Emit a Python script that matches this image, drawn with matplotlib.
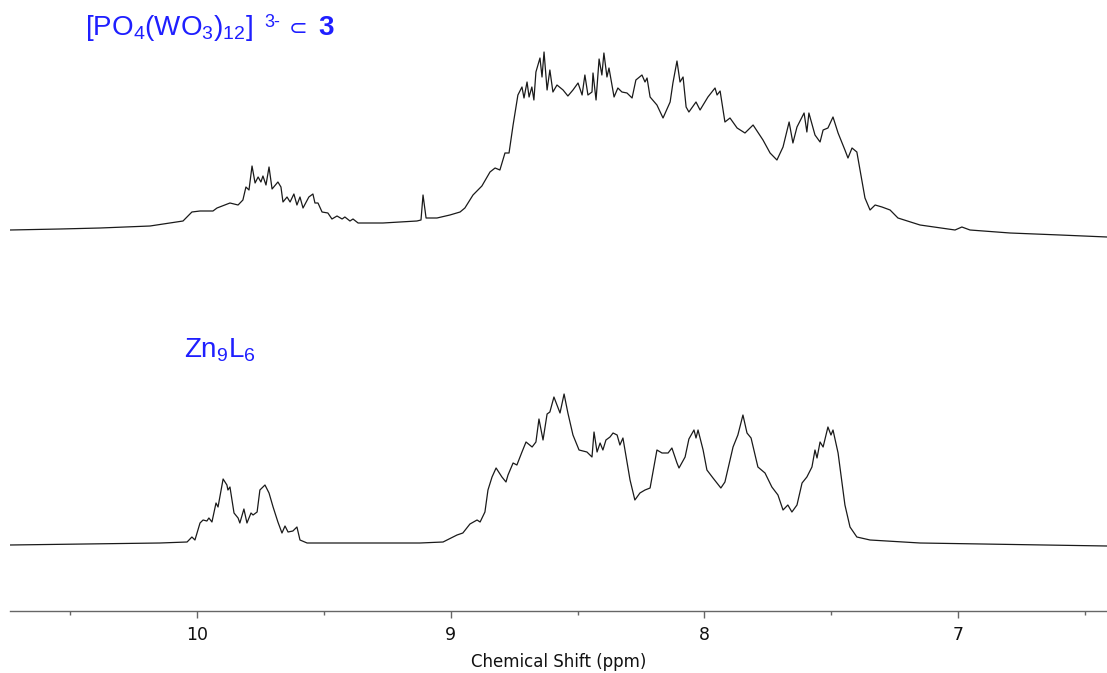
import matplotlib
matplotlib.use("Agg")
import matplotlib.pyplot as plt
from matplotlib.ticker import MultipleLocator

plt.rcParams['font.family'] = ['Liberation Sans', 'DejaVu Sans']
plt.rcParams['mathtext.fontset'] = 'custom'
plt.rcParams['mathtext.rm'] = 'Liberation Sans'
plt.rcParams['mathtext.it'] = 'Liberation Sans'
plt.rcParams['mathtext.bf'] = 'Liberation Sans:bold'

# upper spectrum: [PO4(WO3)12]3- inside cage 3
top_ppm = [10.737, 10.540, 10.382, 10.185, 10.055, 10.020, 9.988, 9.937, 9.921, 9.870,
           9.838, 9.819, 9.807, 9.795, 9.783, 9.771, 9.759, 9.748, 9.740, 9.728,
           9.716, 9.704, 9.681, 9.669, 9.661, 9.645, 9.633, 9.618, 9.606, 9.594,
           9.582, 9.559, 9.543, 9.535, 9.523, 9.507, 9.484, 9.468, 9.448, 9.428,
           9.417, 9.397, 9.385, 9.365, 9.267, 9.133, 9.117, 9.109, 9.097, 9.054,
           9.003, 8.963, 8.944, 8.912, 8.877, 8.845, 8.825, 8.806, 8.786, 8.770,
           8.754, 8.735, 8.719, 8.711, 8.699, 8.691, 8.680, 8.672, 8.664, 8.648,
           8.640, 8.632, 8.620, 8.609, 8.597, 8.581, 8.557, 8.538, 8.518, 8.498,
           8.482, 8.471, 8.459, 8.443, 8.439, 8.427, 8.415, 8.404, 8.396, 8.384,
           8.376, 8.356, 8.341, 8.325, 8.305, 8.285, 8.270, 8.246, 8.234, 8.226,
           8.214, 8.187, 8.163, 8.135, 8.124, 8.108, 8.096, 8.084, 8.072, 8.061,
           8.033, 8.017, 7.986, 7.958, 7.950, 7.938, 7.919, 7.899, 7.871, 7.840,
           7.808, 7.769, 7.741, 7.714, 7.690, 7.666, 7.651, 7.635, 7.607, 7.596,
           7.588, 7.564, 7.544, 7.532, 7.513, 7.493, 7.473, 7.446, 7.434, 7.418,
           7.399, 7.367, 7.347, 7.327, 7.300, 7.268, 7.237, 7.150, 7.012, 6.985,
           6.953, 6.795, 6.598, 6.413]
top_int = [5, 6, 7, 9, 14, 23, 24, 24, 27, 32,
           30, 35, 48, 45, 69, 52, 58, 53, 59, 50,
           68, 46, 53, 48, 33, 38, 33, 41, 30, 38,
           27, 38, 41, 32, 32, 23, 22, 16, 19, 16,
           18, 14, 16, 12, 12, 14, 15, 40, 17, 17,
           20, 23, 27, 40, 49, 63, 67, 65, 82, 82,
           110, 140, 148, 137, 153, 138, 148, 135, 163, 177,
           158, 183, 145, 165, 143, 150, 145, 139, 145, 152,
           140, 160, 140, 143, 162, 135, 176, 160, 182, 158,
           167, 138, 147, 143, 142, 137, 155, 160, 153, 157,
           138, 130, 117, 133, 152, 174, 153, 158, 128, 123,
           133, 125, 138, 147, 140, 144, 113, 117, 107, 102,
           110, 95, 82, 75, 88, 113, 92, 108, 122, 103,
           122, 100, 93, 105, 107, 118, 102, 85, 77, 87,
           83, 37, 25, 30, 28, 25, 17, 10, 5, 8,
           5, 2, 0, -2]

# lower spectrum: free Zn9L6
bot_ppm = [10.737, 10.146, 10.039, 10.020, 10.008, 9.988, 9.976, 9.961, 9.953, 9.941,
           9.925, 9.917, 9.897, 9.882, 9.878, 9.870, 9.854, 9.838, 9.831, 9.815,
           9.803, 9.787, 9.779, 9.763, 9.752, 9.732, 9.716, 9.700, 9.681, 9.665,
           9.653, 9.641, 9.622, 9.606, 9.594, 9.566, 9.515, 9.121, 9.030, 8.975,
           8.952, 8.924, 8.896, 8.884, 8.865, 8.853, 8.837, 8.821, 8.798, 8.782,
           8.774, 8.754, 8.739, 8.719, 8.703, 8.679, 8.664, 8.652, 8.636, 8.620,
           8.609, 8.593, 8.581, 8.569, 8.553, 8.538, 8.518, 8.494, 8.463, 8.443,
           8.435, 8.423, 8.411, 8.400, 8.388, 8.372, 8.360, 8.344, 8.333, 8.321,
           8.293, 8.274, 8.254, 8.234, 8.214, 8.187, 8.167, 8.143, 8.128, 8.108,
           8.100, 8.076, 8.061, 8.041, 8.033, 8.025, 8.005, 7.990, 7.966, 7.935,
           7.919, 7.887, 7.868, 7.848, 7.832, 7.816, 7.789, 7.761, 7.734, 7.710,
           7.690, 7.671, 7.655, 7.635, 7.615, 7.596, 7.576, 7.564, 7.556, 7.544,
           7.532, 7.513, 7.501, 7.493, 7.473, 7.446, 7.426, 7.399, 7.347, 7.150,
           6.413]
bot_int = [1, 3, 4, 9, 6, 23, 26, 25, 28, 24,
           43, 39, 67, 61, 56, 59, 33, 28, 23, 37,
           23, 33, 31, 34, 56, 61, 53, 39, 24, 13,
           20, 14, 15, 19, 6, 3, 3, 3, 4, 11,
           13, 22, 26, 24, 34, 56, 69, 78, 69, 64,
           71, 83, 81, 94, 104, 99, 104, 127, 106, 132,
           134, 149, 141, 133, 152, 133, 111, 96, 94, 89,
           114, 94, 103, 96, 106, 109, 113, 111, 101, 108,
           66, 46, 53, 56, 58, 96, 93, 93, 98, 83,
           78, 89, 107, 116, 108, 116, 96, 76, 68, 58,
           64, 99, 111, 131, 113, 108, 79, 73, 59, 51,
           36, 41, 34, 41, 63, 69, 79, 96, 88, 104,
           99, 119, 111, 116, 93, 41, 19, 9, 6, 3,
           0]

top_offset = 311
x_ticks = [10, 9, 8, 7]
label_blue = '#1f1fff'

fig = plt.figure(figsize=(11.07, 6.73), dpi=100)
ax = fig.add_axes([10 / 1107, 62 / 673, 1097 / 1107, 611 / 673])

ax.plot(bot_ppm, bot_int, color='#1a1a1a', lw=0.9)
ax.plot(top_ppm, [v + top_offset for v in top_int], color='#1a1a1a', lw=0.9)

ax.set_xlim(10.737, 6.413)
ax.set_ylim(-65, 546)

for side in ['top', 'left', 'right']:
    ax.spines[side].set_visible(False)
ax.spines['bottom'].set_color('#666666')
ax.spines['bottom'].set_linewidth(1.0)
ax.set_yticks([])
ax.set_xticks(x_ticks)
ax.set_xticklabels([str(t) for t in x_ticks], family='DejaVu Sans')
ax.xaxis.set_minor_locator(MultipleLocator(0.5))
ax.tick_params(axis='x', which='major', length=5, width=1, color='#666666',
               labelsize=12.5, labelcolor='#111111', pad=6)
ax.tick_params(axis='x', which='minor', length=3, width=1, color='#666666')
ax.set_xlabel('Chemical Shift (ppm)', family='DejaVu Sans', fontsize=12,
              color='#111111', labelpad=6)

# sample labels (pieces placed side by side, like the original figure)
fig.text(85 / 1107, 1 - 35 / 673, r'$\mathregular{[PO_4(WO_3)_{12}]}$',
         color=label_blue, fontsize=20)
fig.text(264 / 1107, 1 - 27 / 673, '3-', color=label_blue, fontsize=13)
fig.text(289 / 1107, 1 - 35 / 673, '\u2282', color=label_blue, fontsize=16,
         family='DejaVu Sans')
fig.text(318 / 1107, 1 - 35 / 673, '3', color=label_blue, fontsize=20,
         weight='bold')
fig.text(184 / 1107, 1 - 357 / 673, r'$\mathregular{Zn_9L_6}$',
         color=label_blue, fontsize=20)

fig.savefig('out.png', dpi=100)
